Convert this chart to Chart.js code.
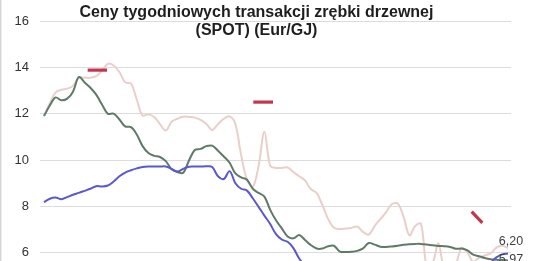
<!DOCTYPE html>
<html>
<head>
<meta charset="utf-8">
<script src="https://cdn.jsdelivr.net/npm/chart.js@4.4.1/dist/chart.umd.min.js"></script>
<style>
  html, body { margin: 0; padding: 0; background: #ffffff; overflow: hidden; }
  canvas { display: block; }
</style>
</head>
<body>
<canvas id="c" width="533" height="261" style="width:533px;height:261px"></canvas>
<script>
// ---- Data (week index along the x axis, prices in Eur/GJ) ----
const titleLines = ['Ceny tygodniowych transakcji zrębki drzewnej', '(SPOT) (Eur/GJ)'];

const weeks = [0,1,2,3,4,5,6,7,8,9,10,11,12,13,14,15,16,17,18,19,20,21,22,23,24,25,26,27,28,29,30,31,32,33,34,35,36,37,38,39,40,41,42,43,44,45,46,47,48,49,50,51,52,53,54,55,56,57,58,59,60,61,62,63,64,65,66,67,68,69,70,71,72,73,74,75,76,77,78,79,80];

const yTickValues = [6, 8, 10, 12, 14, 16];

const seriesPink = [11.90,12.45,12.92,13.03,13.08,13.20,13.55,13.55,13.55,13.62,
  13.85,14.15,14.08,13.80,13.35,13.30,12.60,11.92,11.97,11.86,
  11.55,11.27,11.65,11.78,11.87,11.86,11.83,11.73,11.55,11.30,
  11.55,11.78,11.88,11.55,10.20,9.15,8.84,9.75,11.22,9.75,
  9.66,9.66,9.68,9.48,9.30,9.12,8.75,8.58,8.05,7.45,
  7.08,7.02,7.04,7.07,7.13,6.90,6.78,7.15,7.45,7.75,
  8.10,8.12,7.55,6.75,7.15,7.25,5.40,5.55,6.40,5.30,
  5.20,5.50,6.20,6.02,5.60,5.78,5.88,5.97,6.22,6.30,6.20];

const seriesGreen = [11.90,12.35,12.70,12.58,12.65,12.95,13.58,13.35,13.12,12.82,
  12.40,12.00,12.00,11.75,11.45,11.42,11.10,10.60,10.30,10.18,
  10.13,9.95,9.60,9.48,9.45,9.98,10.43,10.48,10.60,10.62,
  10.40,10.15,9.88,9.42,9.25,9.15,8.76,8.58,8.42,7.85,
  7.40,7.05,6.70,6.62,6.76,6.55,6.33,6.18,6.18,6.28,
  6.30,6.05,6.03,6.04,6.08,6.19,6.42,6.35,6.26,6.25,
  6.27,6.30,6.34,6.37,6.38,6.38,6.35,6.32,6.29,6.28,
  6.25,6.17,6.18,6.10,5.92,5.85,5.77,5.72,5.70,5.68,5.66];

const seriesBlue = [8.18,8.33,8.38,8.31,8.40,8.50,8.58,8.67,8.76,8.87,
  8.86,8.90,9.07,9.30,9.46,9.56,9.64,9.70,9.72,9.72,
  9.72,9.72,9.62,9.50,9.62,9.71,9.72,9.72,9.73,9.70,
  9.30,9.18,9.52,9.00,8.76,8.68,8.35,7.98,7.60,7.24,
  6.80,6.57,6.47,6.20,5.75,5.45,5.20,5.00,4.85,4.75,
  4.70,4.68,4.65,4.62,4.60,4.60,4.62,4.65,4.68,4.70,
  4.72,4.75,4.78,4.80,4.82,4.85,4.88,4.90,4.92,4.95,
  4.98,5.00,5.02,5.05,5.10,5.15,5.30,5.55,5.80,5.93,5.97];

// short forecast markers (x in week index, y in Eur/GJ)
const markerA = [{x: 7.53, y: 13.88}, {x: 10.86, y: 13.88}];
const markerB = [{x: 36.09, y: 12.50}, {x: 39.48, y: 12.50}];
const markerC = [{x: 73.74, y: 7.77}, {x: 75.57, y: 7.29}];

const endLabelPink = '6,20';
const endLabelBlue = '5,97';

// ---- Chart ----
const FONT = '"Liberation Sans", Arial, Helvetica, sans-serif';

const overlay = {
  id: 'overlay',
  beforeDraw(chart) {
    const ctx = chart.ctx;
    ctx.save();
    ctx.fillStyle = '#d6d6d6';
    ctx.fillRect(0, 0, 1.5, chart.height);
    ctx.restore();
  },
  afterDatasetsDraw(chart) {
    const ctx = chart.ctx;
    const xs = chart.scales.x, ys = chart.scales.y;
    ctx.save();
    // end labels
    ctx.font = '12.5px ' + FONT;
    ctx.fillStyle = '#404040';
    ctx.textAlign = 'center';
    ctx.textBaseline = 'alphabetic';
    const last = weeks.length - 1;
    const px = xs.getPixelForValue(weeks[last]);
    ctx.fillText(endLabelPink, px + 3, ys.getPixelForValue(seriesPink[last]) - 3);
    ctx.fillText(endLabelBlue, px + 3, ys.getPixelForValue(seriesBlue[last]) + 10);
    // title
    ctx.font = 'bold 16px ' + FONT;
    ctx.fillStyle = '#1e1e1e';
    ctx.fillText(titleLines[0], 256.5, 17);
    ctx.fillText(titleLines[1], 256.5, 35);
    ctx.restore();
  }
};

const lineDs = (label, data, color, order) => ({
  label, data, borderColor: color, backgroundColor: color,
  borderWidth: 2, pointRadius: 0, tension: 0.35, fill: false, order
});
const markDs = (data) => ({
  data, borderColor: '#c3344f', backgroundColor: '#c3344f',
  borderWidth: 3.2, pointRadius: 0, tension: 0, fill: false, borderCapStyle: 'butt', order: 0
});

new Chart(document.getElementById('c'), {
  type: 'line',
  data: {
    labels: weeks,
    datasets: [
      lineDs('SPOT A', seriesPink, '#e9cfcb', 3),
      lineDs('SPOT B', seriesGreen, '#5f7b67', 2),
      lineDs('SPOT C', seriesBlue, '#5b58cc', 1),
      markDs(markerA),
      markDs(markerB),
      markDs(markerC)
    ]
  },
  options: {
    responsive: false,
    maintainAspectRatio: false,
    devicePixelRatio: 1,
    animation: false,
    events: [],
    layout: { padding: { left: 0, right: 22, top: 21, bottom: 0 } },
    plugins: { legend: { display: false }, title: { display: false }, tooltip: { enabled: false } },
    scales: {
      x: {
        type: 'linear', min: -0.69, max: 80.52, display: false
      },
      y: {
        min: 5.642, max: 16,
        afterBuildTicks: (s) => { s.ticks = yTickValues.map(v => ({ value: v })); },
        afterFit: (s) => { s.width = 40; s.paddingTop = 0; s.paddingBottom = 0; },
        border: { display: false },
        grid: { color: '#dcdcdc', lineWidth: 1, drawTicks: false },
        ticks: {
          padding: 11,
          color: '#333333',
          font: { family: FONT, size: 13 },
          callback: (v) => String(v)
        }
      }
    }
  },
  plugins: [overlay]
});
</script>
</body>
</html>
